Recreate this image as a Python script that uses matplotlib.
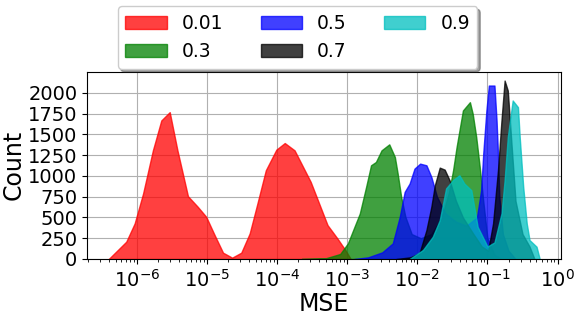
import numpy as np
import matplotlib
matplotlib.use("Agg")
import matplotlib.pyplot as plt

# histogram outlines: log10(MSE) positions and counts
labels = ["0.01", "0.3", "0.5", "0.7", "0.9"]
colors = ["red", "green", "blue", "black", "c"]

log_001 = [-6.40, -6.15, -6.03, -5.91, -5.77, -5.65, -5.53, -5.42, -5.27, -5.13, -5.01, -4.89, -4.77,
           -4.64, -4.51, -4.39, -4.28, -4.16, -4.01, -3.89, -3.75, -3.52, -3.28, -3.14, -3.02, -2.95]
cnt_001 = [0, 208, 428, 788, 1308, 1668, 1768, 1308, 756, 628, 508, 288, 76,
           16, 76, 308, 668, 1068, 1316, 1396, 1308, 928, 408, 248, 100, 0]

log_03 = [-3.65, -3.30, -3.10, -2.99, -2.89, -2.82, -2.73, -2.66, -2.59, -2.51, -2.40, -2.32, -2.28, -2.23,
          -2.17, -2.08, -1.95, -1.80, -1.65, -1.55, -1.49, -1.44, -1.35, -1.25, -1.21, -1.16, -1.11,
          -1.06, -1.00, -0.90, -0.80]
cnt_03 = [0, 10, 60, 188, 400, 548, 868, 1128, 1168, 1308, 1380, 1228, 1028, 748,
          508, 300, 250, 300, 500, 800, 1068, 1348, 1788, 1888, 1748, 1468, 1108,
          700, 250, 50, 0]

log_05 = [-2.90, -2.70, -2.50, -2.35, -2.25, -2.18, -2.11, -2.04, -1.96, -1.87, -1.80, -1.72, -1.60,
          -1.45, -1.30, -1.15, -1.09, -1.06, -1.015, -0.98, -0.90, -0.87, -0.85, -0.83, -0.78, -0.70, -0.60]
cnt_05 = [0, 20, 80, 188, 508, 808, 908, 1088, 1148, 1128, 988, 750, 550,
          450, 400, 500, 828, 1268, 1788, 2088, 2088, 1668, 1268, 748, 300, 100, 0]

log_07 = [-2.30, -2.10, -1.97, -1.87, -1.80, -1.75, -1.68, -1.61, -1.54, -1.45, -1.35, -1.20, -1.08,
          -0.99, -0.92, -0.85, -0.80, -0.755, -0.71, -0.65, -0.60, -0.50, -0.40, -0.33]
cnt_07 = [0, 20, 68, 348, 628, 888, 1100, 1076, 948, 700, 500, 300, 150,
          100, 428, 1068, 1668, 2148, 2028, 1300, 700, 300, 150, 0]

log_09 = [-2.11, -1.92, -1.78, -1.68, -1.59, -1.49, -1.40, -1.33, -1.23, -1.14, -1.00, -0.90, -0.80,
          -0.755, -0.71, -0.64, -0.565, -0.54, -0.49, -0.44, -0.40, -0.30, -0.255]
cnt_09 = [0, 108, 268, 468, 850, 950, 1008, 908, 828, 388, 150, 200, 548,
          948, 1468, 1908, 1828, 1468, 868, 428, 228, 148, 0]

series = [(log_001, cnt_001), (log_03, cnt_03), (log_05, cnt_05), (log_07, cnt_07), (log_09, cnt_09)]

fig = plt.figure(figsize=(5.81, 3.17), dpi=100)
ax = fig.add_axes([0.150, 0.183, 0.816, 0.591])

for (lx, cnt), lab, col in zip(series, labels, colors):
    x = 10 ** np.array(lx)
    ax.fill_between(x, cnt, color=col, alpha=0.75, edgecolor=col, linewidth=1, label=lab)

ax.set_xscale("log")
ax.set_ylim(bottom=0)
ax.set_xticks([1e-6, 1e-5, 1e-4, 1e-3, 1e-2, 1e-1, 1e0])
ax.set_yticks(np.arange(0, 2001, 250))
ax.grid(True, which="major", color="#b0b0b0", linewidth=0.8)
ax.set_axisbelow(True)
ax.tick_params(labelsize=14)
ax.set_xlabel("MSE", fontsize=17, labelpad=1)
ax.set_ylabel("Count", fontsize=17, labelpad=2)

ax.legend(loc="lower center", bbox_to_anchor=(0.444, 1.0), ncol=3, fontsize=13.5,
          shadow=True, fancybox=True, handlelength=2.2, borderaxespad=0.15)

fig.savefig("out.png", dpi=100)
